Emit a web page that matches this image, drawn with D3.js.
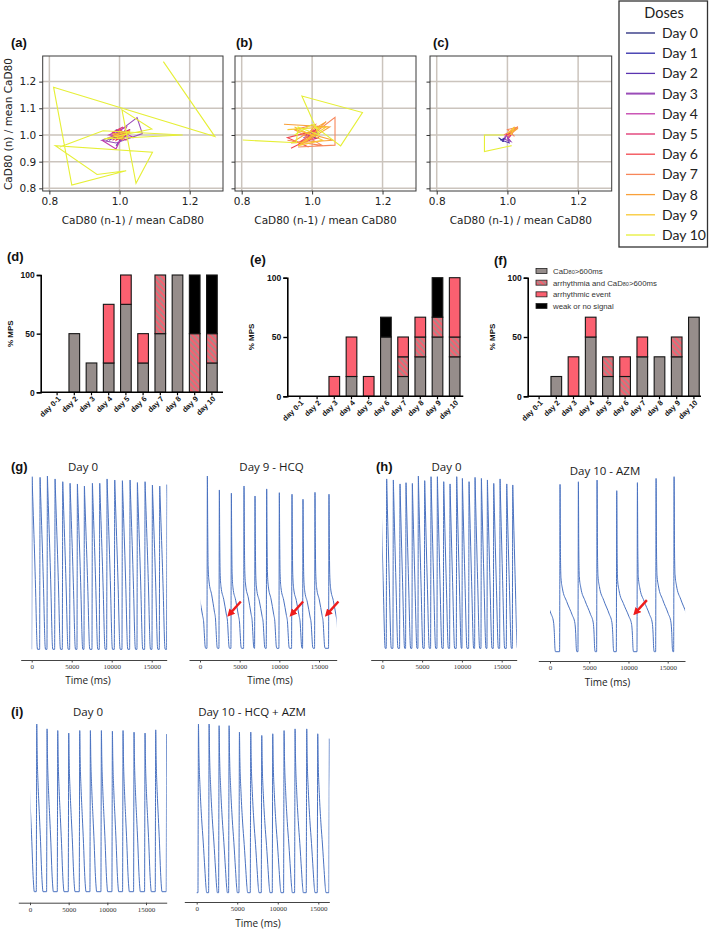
<!DOCTYPE html>
<html><head><meta charset="utf-8">
<script src="https://cdn.jsdelivr.net/npm/d3@7"></script>
<style>body{margin:0;background:#fff}svg{display:block}</style>
</head><body><svg id="c" width="709" height="929"></svg>
<script>
// ---------------- DATA ----------------
const doseDays = ["Day 0","Day 1","Day 2","Day 3","Day 4","Day 5","Day 6","Day 7","Day 8","Day 9","Day 10"];
const doseColors = ["#23277a","#2f2aa8","#5b34b0","#9a4cb8","#c23aab","#df2f6c","#f2474f","#f7865a","#f9a03a","#f8c832","#e6ef36"];
const poincareXTicks = [0.8, 1.0, 1.2];
const poincareYTicks = [0.8, 0.9, 1.0, 1.1, 1.2];

// (a) Poincare trajectories, one array of [CaD80(n-1), CaD80(n)] per dose day
const poincareA = [
  [[0.99,0.99],[1.01,1.0],[0.995,1.01],[1.005,0.985],[0.99,0.995]],
  [[0.98,1.0],[1.02,1.01],[1.0,0.98],[0.99,1.02],[1.01,0.995]],
  [[0.97,0.98],[1.03,1.02],[0.99,0.96],[1.02,1.0],[0.98,0.99]],
  [[0.96,0.975],[1.05,1.065],[1.065,1.005],[0.99,0.97],[0.95,0.98],[0.99,1.0]],
  [[0.95,0.98],[0.99,0.948],[1.02,1.03],[0.97,1.0],[1.04,0.99],[1.0,1.02]],
  [[0.98,0.98],[1.03,1.02],[0.99,1.0],[1.02,0.98],[0.98,1.01],[1.01,1.03]],
  [[0.97,0.99],[1.02,1.0],[1.0,1.02],[0.99,0.98],[1.03,1.01]],
  [[0.98,1.0],[1.01,0.99],[1.0,1.015],[0.99,0.995],[1.02,1.005]],
  [[1.0,0.99],[1.02,1.01],[0.985,1.005],[1.01,0.98]],
  [[0.99,1.0],[1.03,1.015],[1.0,0.985],[0.98,1.005]],
  [[1.125,1.275],[1.272,0.994],[0.812,1.179],[0.864,0.812],[1.019,0.866],[0.936,0.852],[0.817,0.96],
   [1.094,0.935],[1.047,0.819],[1.007,1.094],[1.092,1.022],[0.955,0.985],[1.18,1.0],[0.953,1.016],[0.83,0.955]]
];
// (b)
const poincareB = [
  [[0.99,0.995],[1.005,1.005],[0.995,1.0]],
  [[0.985,0.99],[1.01,1.0],[0.995,1.01]],
  [[0.98,1.0],[1.01,0.99],[1.0,1.015]],
  [[0.975,0.99],[1.015,1.01],[0.99,0.98]],
  [[0.97,1.0],[1.02,1.005],[0.985,0.975],[1.01,1.02]],
  [[0.98,1.0],[1.01,1.02],[0.99,0.98],[1.02,0.99]],
  [[0.94,0.95],[1.0,0.99],[0.96,0.97],[1.02,1.02],[0.93,0.99],[0.99,0.955]],
  [[0.93,0.98],[1.03,0.96],[0.95,1.02],[1.01,1.04],[0.97,0.97],[1.065,1.066],[1.065,0.962],[0.96,0.955]],
  [[0.92,1.04],[1.05,1.03],[0.97,0.965],[1.04,1.05],[0.94,0.97],[1.06,0.98],[0.95,1.02]],
  [[0.93,1.02],[1.04,1.03],[0.96,0.96],[1.03,0.98],[0.95,1.03]],
  [[0.803,0.981],[0.955,0.971],[0.96,1.03],[1.02,1.0],[0.971,1.146],[1.143,1.084],[1.081,0.959],[1.0,1.04],[0.95,1.0]]
];
// (c)
const poincareC = [
  [[0.975,0.99],[0.99,0.975],[0.98,0.985]],
  [[0.98,0.98],[0.995,0.99],[0.985,0.975]],
  [[0.985,0.98],[1.005,0.97],[1.0,0.995]],
  [[0.99,0.985],[1.01,0.975],[0.995,1.0]],
  [[0.99,0.99],[1.01,1.01],[1.0,0.985]],
  [[0.995,1.0],[1.02,1.02],[1.005,0.99]],
  [[1.0,1.0],[1.025,1.025],[1.01,1.005],[1.02,1.03]],
  [[0.99,1.0],[1.03,1.03],[1.0,1.02],[1.02,0.995]],
  [[1.0,0.995],[1.03,1.025],[1.005,1.01],[1.025,1.02]],
  [[1.0,1.005],[1.02,1.03],[1.01,1.0]],
  [[0.99,1.0],[0.935,1.0],[0.935,0.9375],[1.012,0.96]]
];

// Bar charts (% MPS)
const barDays = ["day 0-1","day 2","day 3","day 4","day 5","day 6","day 7","day 8","day 9","day 10"];
const barKeys = ["cad","both","arr","weak"];
const barLegend = ["CaD80>600ms","arrhythmia and CaD80>600ms","arrhythmic event","weak or no signal"];
const barTicks = [0, 50, 100];
const dCad  = [0,50,25,25,75,25,50,100,0,25];
const dBoth = [0,0,0,0,0,0,50,0,50,25];
const dArr  = [0,0,0,50,25,25,0,0,0,0];
const dWeak = [0,0,0,0,0,0,0,0,50,50];
const eCad  = [0,0,0,16.7,0,50,16.7,33.3,50,33.3];
const eBoth = [0,0,0,0,0,0,16.6,16.7,16.7,16.7];
const eArr  = [0,0,16.7,33.3,16.7,0,16.7,16.7,0,50];
const eWeak = [0,0,0,0,0,16.7,0,0,33.3,0];
const fCad  = [0,16.7,0,50,16.7,0,33.3,33.3,33.3,66.7];
const fBoth = [0,0,0,0,16.6,16.7,0,0,16.7,0];
const fArr  = [0,0,33.3,16.7,0,16.6,16.7,0,0,0];
const fWeak = [0,0,0,0,0,0,0,0,0,0];

// Calcium traces: beat onset times (ms), relative peak heights, and beat shapes [ms after onset, fraction of peak]
const timeTicks = [0, 5000, 10000, 15000];
const g0Onsets = [-8,992,1908,2867,3825,4742,5658,6533,7533,8450,9367,10325,11283,12242,13158,14117,15033,15950,16867];
const g0Peaks  = [0.996,0.992,1,0.983,0.967,0.958,0.954,0.942,0.958,0.958,0.983,0.977,0.973,0.977,0.962,0.967,0.948,0.942,0.95];
const g0Shape  = [[0,0],[25,0.4],[55,1],[95,0.94],[250,0.72],[400,0.5],[520,0.3],[610,0.12],[670,0.03],[740,0]];
const g9Onsets = [-620,874,2386,3898,5494,6880,8350,9946,11542,12928,14440,16204];
const g9Peaks  = [0.9,1.0,0.919,0.90,0.942,0.884,0.925,0.903,0.894,0.865,0.905,0.894];
const g9Shape  = [[0,0],[25,0.4],[55,1],[95,0.72],[150,0.48],[260,0.39],[600,0.31],[950,0.21],[1080,0.17],[1180,0.08],[1260,0.015],[1340,0]];
const g9Arrows = [[3570,0.19],[11424,0.19],[15876,0.19]];
const h0Onsets = [-270,495,1333,2171,2925,3721,4475,5271,6067,6864,7660,8456,9294,10006,10844,11598,12394,13149,13945,14741,15579,16333];
const h0Peaks  = [0.98,0.983,0.977,0.954,0.961,0.957,1.0,0.973,0.996,0.996,0.967,0.954,0.996,0.986,0.967,0.992,0.986,0.977,0.957,0.983,0.954,0.948];
const h0Shape  = [[0,0],[25,0.4],[55,1],[90,0.93],[200,0.72],[320,0.5],[430,0.3],[520,0.12],[580,0.03],[640,0]];
const h10Onsets = [-1500,1225,3563,5943,8450,11085,13465,15760];
const h10Peaks  = [1.0,0.956,0.971,0.981,0.92,0.966,0.99,1.0];
const h10Shape  = [[0,0],[25,0.4],[55,1],[105,0.6],[175,0.44],[350,0.38],[900,0.3],[1600,0.22],[1950,0.17],[2050,0.11],[2130,0.02],[2200,0]];
const h10Arrows = [[10753,0.215]];
const i0Onsets = [-315,812,2148,3527,4948,6370,7749,9171,10594,11972,13394,14816,16195,17617];
const i0Peaks  = [1,1,0.971,0.961,0.946,0.961,0.961,0.961,0.957,0.961,0.951,0.946,0.965,0.94];
const i0Shape  = [[0,0],[25,0.4],[60,1],[110,0.84],[250,0.62],[400,0.46],[550,0.3],[690,0.12],[790,0.035],[870,0]];
const i10Onsets = [-2000,156,1471,2704,3937,5211,6608,7965,9321,10718,12075,13513,14870,16308];
const i10Peaks  = [1,1,1,0.99,0.99,0.952,0.952,0.932,0.942,0.961,0.971,0.971,0.942,0.913];
const i10Shape  = [[0,0],[25,0.4],[60,1],[110,0.84],[260,0.62],[450,0.44],[650,0.3],[850,0.14],[980,0.04],[1080,0]];

// ---------------- DRAWING ----------------
const svg = d3.select("#c");
svg.append("rect").attr("width",709).attr("height",929).attr("fill","#fff");
const defs = svg.append("defs");

// ---------- Poincare panels ----------
const PT = 56, PB = 191;
const pX = [0.781, 1.295], pY = [0.79, 1.296];
const pPanels = [
  {l:42.7, r:223, data:poincareA, tag:"(a)", tx:11, labels:true},
  {l:235, r:416, data:poincareB, tag:"(b)", tx:236, labels:false},
  {l:430, r:611.7, data:poincareC, tag:"(c)", tx:433, labels:false}
];
pPanels.forEach((p,pi)=>{
  const x = d3.scaleLinear().domain(pX).range([p.l,p.r]);
  const y = d3.scaleLinear().domain(pY).range([PB,PT]);
  const g = svg.append("g");
  const cid = "pclip"+pi;
  defs.append("clipPath").attr("id",cid).append("rect").attr("x",p.l).attr("y",PT).attr("width",p.r-p.l).attr("height",PB-PT);
  poincareXTicks.forEach(v=>g.append("line").attr("x1",x(v)).attr("x2",x(v)).attr("y1",PT).attr("y2",PB).attr("stroke","#cbc4bd").attr("stroke-width",1.5));
  poincareYTicks.forEach(v=>g.append("line").attr("x1",p.l).attr("x2",p.r).attr("y1",y(v)).attr("y2",y(v)).attr("stroke","#cbc4bd").attr("stroke-width",1.5));
  const line = d3.line().x(d=>x(d[0])).y(d=>y(d[1]));
  const lg = g.append("g").attr("clip-path",`url(#${cid})`);
  p.data.forEach((pts,i)=>lg.append("path").attr("d",line(pts)).attr("fill","none")
     .attr("stroke",doseColors[i]).attr("stroke-width",1.1).attr("stroke-linejoin","miter"));
  g.append("rect").attr("x",p.l).attr("y",PT).attr("width",p.r-p.l).attr("height",PB-PT)
    .attr("fill","none").attr("stroke","#3a3a3a").attr("stroke-width",1);
  const ax = g.append("g").attr("transform",`translate(0,${PB})`)
    .call(d3.axisBottom(x).tickValues(poincareXTicks).tickSize(3.5).tickPadding(3).tickFormat(d3.format(".1f")));
  ax.select(".domain").remove();
  ax.selectAll("line").attr("stroke","#333");
  ax.selectAll("text").attr("font-family","DejaVu Sans").attr("font-size",10.5).attr("fill","#222");
  const ay = g.append("g").attr("transform",`translate(${p.l},0)`)
    .call(d3.axisLeft(y).tickValues(poincareYTicks).tickSize(3.5).tickPadding(3)
      .tickFormat(p.labels ? d3.format(".1f") : ()=>""));
  ay.select(".domain").remove();
  ay.selectAll("line").attr("stroke","#333");
  ay.selectAll("text").attr("font-family","DejaVu Sans").attr("font-size",10.5).attr("fill","#222");
  g.append("text").attr("x",(p.l+p.r)/2).attr("y",224).attr("text-anchor","middle")
    .attr("font-family","DejaVu Sans").attr("font-size",10.5).attr("fill","#222").text("CaD80 (n-1) / mean CaD80");
  g.append("text").attr("x",p.tx).attr("y",47).attr("font-family","Liberation Sans").attr("font-weight","bold")
    .attr("font-size",13).attr("fill","#111").text(p.tag);
});
svg.append("text").attr("transform","translate(12,124) rotate(-90)").attr("text-anchor","middle")
  .attr("font-family","DejaVu Sans").attr("font-size",10.5).attr("fill","#222").text("CaD80 (n) / mean CaD80");

// Doses legend
const leg = svg.append("g");
leg.append("rect").attr("x",619).attr("y",1).attr("width",88.5).attr("height",246)
  .attr("fill","#fff").attr("stroke","#333").attr("stroke-width",1.3);
leg.append("text").attr("x",664).attr("y",18).attr("text-anchor","middle")
  .attr("font-family","Lato").attr("font-size",14.5).attr("fill","#222").text("Doses");
const legY = d3.scalePoint().domain(doseDays).range([33,235]);
doseDays.forEach((d,i)=>{
  leg.append("line").attr("x1",626).attr("x2",655).attr("y1",legY(d)).attr("y2",legY(d))
    .attr("stroke",doseColors[i]).attr("stroke-width", i===3?2:1.3);
  leg.append("text").attr("x",662).attr("y",legY(d)+5).attr("font-family","Lato").attr("font-size",14)
    .attr("fill","#222").text(d);
});

// ---------- Bar charts ----------
const hp = defs.append("pattern").attr("id","hatch").attr("patternUnits","userSpaceOnUse")
  .attr("width",4).attr("height",4).attr("patternTransform","rotate(-45)");
hp.append("rect").attr("width",4).attr("height",4).attr("fill","#f7606f");
hp.append("line").attr("x1",1).attr("x2",1).attr("y1",0).attr("y2",4).attr("stroke","#9b908e").attr("stroke-width",1.6);
const barFill = {cad:"#968d8b", both:"url(#hatch)", arr:"#fb6070", weak:"#000"};

const bPanels = [
  {ax:40.7, y0:392.3, y100:275, r0:48.5, r1:220.5, xEnd:223, vals:[dCad,dBoth,dArr,dWeak], tag:"(d)", tx:7, ty:261, mx:13},
  {ax:287.3, y0:396.3, y100:277.7, r0:291.3, r1:463.3, xEnd:463.3, vals:[eCad,eBoth,eArr,eWeak], tag:"(e)", tx:250, ty:264, mx:254},
  {ax:527.7, y0:396.3, y100:277.7, r0:530.5, r1:702.5, xEnd:701, vals:[fCad,fBoth,fArr,fWeak], tag:"(f)", tx:494, ty:265, mx:495}
];
bPanels.forEach((p,pi)=>{
  const table = barDays.map((d,i)=>{const o={day:d}; barKeys.forEach((k,j)=>o[k]=p.vals[j][i]); return o;});
  const series = d3.stack().keys(barKeys)(table);
  const x = d3.scaleBand().domain(barDays).range([p.r0,p.r1]).paddingInner(0.38).paddingOuter(0.19);
  const y = d3.scaleLinear().domain([0,100]).range([p.y0,p.y100]);
  const g = svg.append("g");
  series.forEach(s=>{
    g.selectAll(null).data(s.filter(d=>d[1]-d[0]>0)).enter().append("rect")
      .attr("x",d=>x(d.data.day)).attr("width",x.bandwidth())
      .attr("y",d=>y(d[1])).attr("height",d=>y(d[0])-y(d[1]))
      .attr("fill",barFill[s.key]).attr("stroke","#151515").attr("stroke-width",1.1);
  });
  const ay = g.append("g").attr("transform",`translate(${p.ax},0)`)
    .call(d3.axisLeft(y).tickValues(barTicks).tickSize(4).tickPadding(2));
  ay.select(".domain").attr("stroke","#000").attr("stroke-width",1.6);
  ay.selectAll("line").attr("stroke","#000").attr("stroke-width",1.4);
  ay.selectAll("text").attr("font-family","Liberation Sans").attr("font-weight","bold").attr("font-size",8.5).attr("fill","#111");
  g.append("line").attr("x1",p.ax).attr("x2",p.xEnd).attr("y1",p.y0).attr("y2",p.y0).attr("stroke","#000").attr("stroke-width",1.6);
  barDays.forEach(d=>{
    const cx = x(d)+x.bandwidth()/2;
    g.append("line").attr("x1",cx).attr("x2",cx).attr("y1",p.y0).attr("y2",p.y0+3).attr("stroke","#000").attr("stroke-width",1.2);
    g.append("text").attr("transform",`translate(${cx+4},${p.y0+7}) rotate(-45)`).attr("text-anchor","end")
      .attr("font-family","Liberation Sans").attr("font-weight","bold").attr("font-size",7.5).attr("fill","#111").text(d);
  });
  g.append("text").attr("transform",`translate(${p.mx},${(p.y0+p.y100)/2}) rotate(-90)`).attr("text-anchor","middle")
    .attr("font-family","Liberation Sans").attr("font-weight","bold").attr("font-size",8).attr("fill","#111").text("% MPS");
  g.append("text").attr("x",p.tx).attr("y",p.ty).attr("font-family","Liberation Sans").attr("font-weight","bold")
    .attr("font-size",13).attr("fill","#111").text(p.tag);
});
const bl = svg.append("g");
const blY = d3.scalePoint().domain(barKeys).range([271,306]);
barKeys.forEach((k,i)=>{
  bl.append("rect").attr("x",536).attr("y",blY(k)-2.5).attr("width",11).attr("height",5)
    .attr("fill",barFill[k]).attr("stroke","#222").attr("stroke-width",0.8);
  const t = bl.append("text").attr("x",553).attr("y",blY(k)+3).attr("font-family","Liberation Sans")
    .attr("font-size",7.8).attr("fill","#333");
  const lab = barLegend[i];
  if (lab.includes("CaD80")) {
    const parts = lab.split("CaD80");
    t.append("tspan").text(parts[0]+"CaD");
    t.append("tspan").attr("font-size",5.5).text("80");
    t.append("tspan").text(parts[1]);
  } else t.text(lab);
});

// ---------- Calcium traces ----------
defs.append("marker").attr("id","arrowHead").attr("viewBox","0 0 10 10").attr("refX",2).attr("refY",5)
  .attr("markerWidth",3.2).attr("markerHeight",3.2).attr("orient","auto-start-reverse")
  .append("path").attr("d","M0,0 L10,5 L0,10 z").attr("fill","#ee1c1c");

const traces = [
  {x0:31.7, x15:151.7, ax:[20.7,166.7], ay:660, yb:649.3, yt:476, t0:0, t1:16925, on:g0Onsets, pk:g0Peaks, sh:g0Shape, title:"Day 0", titleX:83, titleY:471, time:true, timeX:88, timeY:684},
  {x0:200, x15:319, ax:[189,336.7], ay:660, yb:648.3, yt:476, t0:100, t1:17220, on:g9Onsets, pk:g9Peaks, sh:g9Shape, title:"Day 9 - HCQ", titleX:271.5, titleY:471, time:true, timeX:270, timeY:684, arrows:g9Arrows},
  {x0:382.3, x15:501.7, ax:[370.7,516.7], ay:660, yb:648.3, yt:476, t0:0, t1:16900, on:h0Onsets, pk:h0Peaks, sh:h0Shape, title:"Day 0", titleX:446.5, titleY:471, time:false},
  {x0:550, x15:667.7, ax:[538.3,685], ay:661, yb:651.7, yt:476.7, t0:0, t1:17213, on:h10Onsets, pk:h10Peaks, sh:h10Shape, title:"Day 10 - AZM", titleX:605, titleY:475, time:true, timeX:607.5, timeY:686, arrows:h10Arrows},
  {x0:30, x15:146, ax:[18.3,166.7], ay:902.7, yb:891.7, yt:724, t0:86, t1:17671, on:i0Onsets, pk:i0Peaks, sh:i0Shape, title:"Day 0", titleX:88, titleY:716, time:false},
  {x0:196.7, x15:318.3, ax:[184.3,329.3], ay:902, yb:892.7, yt:724, t0:0, t1:16365, on:i10Onsets, pk:i10Peaks, sh:i10Shape, title:"Day 10 - HCQ + AZM", titleX:252, titleY:716, time:true, timeX:258, timeY:927}
];
traces.forEach((tr,ti)=>{
  const base = d3.scaleLinear().domain([0,15000]).range([tr.x0,tr.x15]);
  const x = d3.scaleLinear().domain([base.invert(tr.ax[0]), base.invert(tr.ax[1])]).range(tr.ax);
  const y = d3.scaleLinear().domain([0,1]).range([tr.yb,tr.yt]);
  const pts = [];
  tr.on.forEach((o,i)=>{
    const next = i+1<tr.on.length ? tr.on[i+1] : Infinity;
    tr.sh.forEach(([dt,v])=>{ if (o+dt < next) pts.push([o+dt, v*tr.pk[i]]); });
    const lastT = o + tr.sh[tr.sh.length-1][0];
    if (next !== Infinity && lastT < next - 1) pts.push([next-1, 0]);
  });
  const cid = "tclip"+ti;
  defs.append("clipPath").attr("id",cid).append("rect")
    .attr("x",x(tr.t0)).attr("y",tr.yt-10).attr("width",x(tr.t1)-x(tr.t0)).attr("height",tr.yb-tr.yt+20);
  const g = svg.append("g");
  g.append("path").attr("clip-path",`url(#${cid})`)
    .attr("d",d3.line().x(d=>x(d[0])).y(d=>y(d[1])).curve(d3.curveMonotoneX)(pts))
    .attr("fill","none").attr("stroke","#4a72c0").attr("stroke-width",1).attr("stroke-linejoin","round");
  const ax = g.append("g").attr("transform",`translate(0,${tr.ay})`)
    .call(d3.axisBottom(x).tickValues(timeTicks).tickSize(2.5).tickSizeOuter(0).tickPadding(2).tickFormat(d3.format("d")));
  ax.select(".domain").attr("stroke","#444").attr("stroke-width",1);
  ax.selectAll("line").attr("stroke","#444");
  ax.selectAll("text").attr("font-family","Liberation Serif").attr("font-size",7).attr("fill","#333");
  g.append("text").attr("x",tr.titleX).attr("y",tr.titleY).attr("text-anchor","middle")
    .attr("font-family","Open Sans").attr("font-size",11.5).attr("fill","#1a1a1a").text(tr.title);
  if (tr.time) g.append("text").attr("x",tr.timeX).attr("y",tr.timeY).attr("text-anchor","middle")
    .attr("font-family","Open Sans").attr("font-size",10).attr("fill","#1a1a1a").text("Time (ms)");
  (tr.arrows||[]).forEach(([t,v])=>{
    const tx = x(t), ty = y(v);
    g.append("line").attr("x1",tx+12.5).attr("y1",ty-14).attr("x2",tx+3).attr("y2",ty-3.4)
      .attr("stroke","#ee1c1c").attr("stroke-width",2.4).attr("marker-end","url(#arrowHead)");
  });
});
[["(g)",11,471],["(h)",376,471],["(i)",11,716]].forEach(([t,xx,yy])=>{
  svg.append("text").attr("x",xx).attr("y",yy).attr("font-family","Liberation Sans").attr("font-weight","bold")
    .attr("font-size",13).attr("fill","#111").text(t);
});
</script>
</body></html>
